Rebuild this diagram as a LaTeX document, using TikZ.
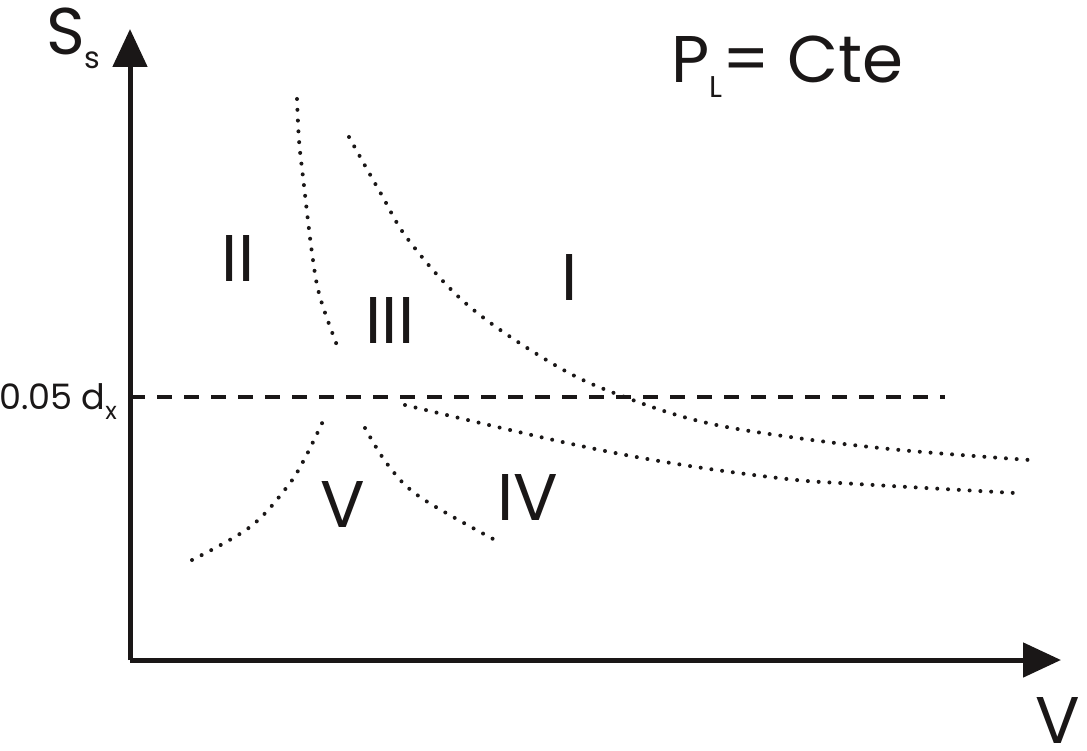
\documentclass[tikz,border=0pt]{standalone}
\usepackage{fontspec}
\setmainfont{Poppins}
\usetikzlibrary{positioning,arrows.meta}
\usepackage{xcolor}
\definecolor{ink}{HTML}{1A1717}

\newcommand{\bigtxt}{\fontsize{66}{66}\selectfont}
\newcommand{\midtxt}{\fontsize{35}{35}\selectfont}
\newcommand{\subtxt}[3]{\raisebox{#1}{\fontsize{#2}{#2}\selectfont #3}}

\tikzset{
  axis/.style={draw=ink,line width=5pt,-{Triangle[length=38pt,width=34pt]}},
  limit/.style={draw=ink,line width=3.4pt,dash pattern=on 15pt off 12pt},
  border/.style={draw=ink,line width=4pt,line cap=round,dash pattern=on 0pt off 10.8pt},
  region/.style={text=ink,inner sep=0pt,anchor=base,font=\bigtxt}
}

\begin{document}
\begin{tikzpicture}[x=1pt,y=-1pt]
  \useasboundingbox (0,0) rectangle (1087,751);

  % axes
  \coordinate (origin) at (130,660);
  \coordinate (ytip) at (130,29);
  \coordinate (xtip) at (1061,660);
  \draw[axis] (origin) -- (ytip);
  \draw[axis] (origin) -- (xtip);

  \node[text=ink,inner sep=0pt,anchor=base west] (ylabel) at (46,55)
    {\bigtxt S\subtxt{-14pt}{30}{s}};
  \node[text=ink,inner sep=0pt,anchor=base east] (xlabel) at (1080,743) {\bigtxt V};
  \node[text=ink,inner sep=0pt,anchor=base west] (title) at (671,83)
    {\bigtxt P\subtxt{-15pt}{30}{L}= Cte};

  % 0.05 dx limit
  \coordinate (dstart) at (130,397);
  \coordinate (dend) at (945,397);
  \draw[limit] (dstart) -- (dend);
  \node[text=ink,inner sep=0pt,anchor=base west] (dlabel) at (-1,409)
    {\midtxt 0.05 d\subtxt{-10pt}{24}{x}};

  % region borders
  \draw[border] plot[smooth,tension=0.6] coordinates
    {(297,99) (299,140) (303,177) (312,253) (320,297) (338,348)};
  \draw[border] plot[smooth,tension=0.6] coordinates
    {(349,137) (380,192) (410,242) (470,307) (560,368) (630,399) (703,422) (790,437) (900,450) (1030,460)};
  \draw[border] plot[smooth,tension=0.6] coordinates
    {(405,405) (567,443) (677,464) (787,479) (857,484) (1015,493)};
  \draw[border] plot[smooth,tension=0.6] coordinates
    {(192,560) (250,527) (287,487) (305,458) (324,419)};
  \draw[border] plot[smooth,tension=0.6] coordinates
    {(365,428) (388,465) (420,497) (495,540)};

  % regions
  \node[region] (r1) at (570,301) {I};
  \node[region] (r2) at (238,282) {II};
  \node[region] (r3) at (390,343) {III};
  \node[region] (r4) at (528,520) {IV};
  \node[region] (r5) at (343,527) {V};
\end{tikzpicture}
\end{document}
